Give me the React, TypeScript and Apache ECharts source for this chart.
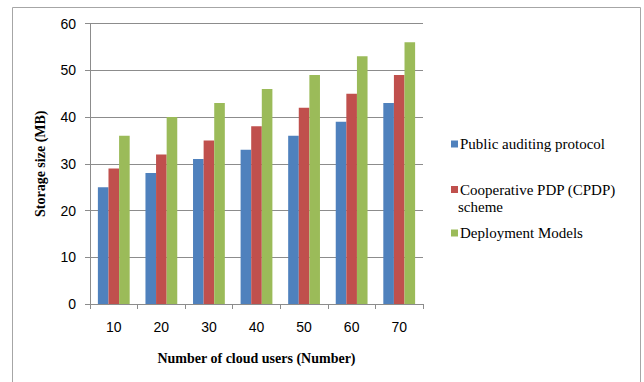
import React, { useEffect, useRef } from "react";
import * as echarts from "echarts";

const categories = ["10", "20", "30", "40", "50", "60", "70"];
const publicAuditing = [25, 28, 31, 33, 36, 39, 43];
const cooperativePdp = [29, 32, 35, 38, 42, 45, 49];
const deploymentModels = [36, 40, 43, 46, 49, 53, 56];
const seriesNames = ["Public auditing protocol", "Cooperative PDP (CPDP) scheme", "Deployment Models"];
const legendLabels = ["Public auditing protocol", "Cooperative PDP (CPDP)", "Deployment Models"];
const colors = ["#4F81BD", "#C0504D", "#9BBB59"];

export default function App() {
  const ref = useRef<HTMLDivElement>(null);
  useEffect(() => {
    if (!ref.current) return;
    const chart = echarts.init(ref.current, undefined, { renderer: "svg" });
    const gray = "#8c8c8c";
    const legendText = { fontFamily: "Liberation Serif", fontSize: 15, color: "#000" };
    const legendTops = [131.5, 177, 220.5];
    const dataSets = [publicAuditing, cooperativePdp, deploymentModels];
    chart.setOption({
      animation: false,
      backgroundColor: "#fff",
      color: colors,
      grid: { left: 90, right: 221, top: 23.5, bottom: 78 },
      legend: seriesNames.map((name, i) => ({
        data: [name],
        orient: "vertical",
        left: 446,
        top: legendTops[i],
        itemWidth: 7,
        itemHeight: 7,
        itemGap: 0,
        icon: "rect",
        textStyle: { ...legendText, padding: [0, 0, 0, -3] },
        formatter: () => legendLabels[i],
      })),
      graphic: [
        {
          type: "rect",
          shape: { x: 12.5, y: 7.5, width: 628, height: 400 },
          style: { fill: "none", stroke: "#a6a6a6", lineWidth: 1 },
          silent: true,
        },
        {
          type: "text",
          left: 458,
          top: 199,
          style: { text: "scheme", ...legendText, fill: "#000" },
        },
      ],
      xAxis: {
        type: "category",
        data: categories,
        axisLine: { show: true, lineStyle: { color: gray } },
        axisTick: { show: true, length: 5, lineStyle: { color: gray } },
        axisLabel: { fontFamily: "Liberation Sans", fontSize: 14, color: "#000", margin: 16 },
        name: "Number of cloud users (Number)",
        nameLocation: "middle",
        nameGap: 47,
        nameTextStyle: { fontFamily: "Liberation Serif", fontWeight: "bold", fontSize: 14, color: "#000" },
      },
      yAxis: {
        type: "value",
        min: 0,
        max: 60,
        interval: 10,
        axisLine: { show: true, lineStyle: { color: gray } },
        axisTick: { show: true, length: 5, lineStyle: { color: gray } },
        splitLine: { show: true, lineStyle: { color: gray, width: 1 } },
        axisLabel: { fontFamily: "Liberation Sans", fontSize: 14, color: "#000", margin: 14 },
        name: "Storage size (MB)",
        nameLocation: "middle",
        nameGap: 43,
        nameTextStyle: { fontFamily: "Liberation Serif", fontWeight: "bold", fontSize: 14, color: "#000" },
      },
      series: seriesNames.map((name, i) => ({
        name,
        type: "bar",
        data: dataSets[i],
        barWidth: 10.6,
        barGap: "0%",
        itemStyle: { color: colors[i] },
      })),
    });
    return () => chart.dispose();
  }, []);
  return (
    <div
      ref={ref}
      style={{ position: "fixed", left: 0, top: 0, width: 644, height: 382, background: "#fff" }}
    />
  );
}
